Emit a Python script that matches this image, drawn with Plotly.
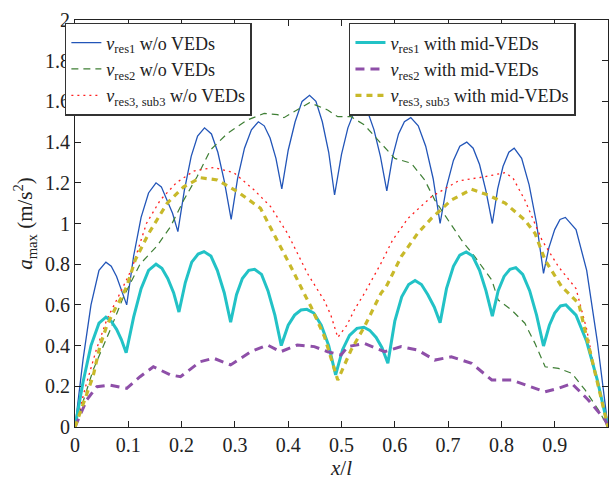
import plotly.graph_objects as go

# ---- data ----
x_b = [0.0, 0.015, 0.03, 0.045, 0.058, 0.068, 0.078, 0.088, 0.097, 0.11, 0.124, 0.138, 0.152,
       0.162, 0.172, 0.183, 0.193, 0.205, 0.218, 0.23, 0.243, 0.256, 0.268, 0.28, 0.293,
       0.305, 0.318, 0.331, 0.344, 0.355, 0.366, 0.377, 0.388, 0.4, 0.413, 0.426, 0.44,
       0.452, 0.464, 0.476, 0.487, 0.5, 0.512, 0.524, 0.537, 0.549, 0.561, 0.573, 0.585,
       0.596, 0.607, 0.618, 0.63, 0.644, 0.658, 0.672, 0.685, 0.697, 0.71, 0.722, 0.735,
       0.747, 0.759, 0.771, 0.783, 0.793, 0.803, 0.814, 0.824, 0.838, 0.852, 0.866, 0.879,
       0.889, 0.9, 0.91, 0.92, 0.94, 0.96, 0.98, 1.0]
y_b = [0.0, 0.33, 0.6, 0.77, 0.81, 0.79, 0.74, 0.67, 0.60, 0.84, 1.03, 1.15, 1.20,
       1.18, 1.12, 1.05, 0.96, 1.16, 1.33, 1.43, 1.47, 1.44, 1.35, 1.21, 1.02,
       1.22, 1.37, 1.46, 1.50, 1.48, 1.42, 1.32, 1.17, 1.36, 1.50, 1.60, 1.63,
       1.60, 1.50, 1.35, 1.14, 1.34, 1.47, 1.55, 1.58, 1.55, 1.46, 1.33, 1.16,
       1.33, 1.44, 1.50, 1.52, 1.48, 1.38, 1.22, 1.0, 1.18, 1.31, 1.38, 1.40,
       1.37, 1.29, 1.16, 1.0, 1.17, 1.28, 1.35, 1.37, 1.32, 1.19, 1.0, 0.755,
       0.88, 0.97, 1.02, 1.03, 0.97, 0.77, 0.42, 0.0]

x_g = [0.0, 0.034, 0.066, 0.091, 0.122, 0.154, 0.179, 0.204, 0.229, 0.254, 0.286, 0.323,
       0.355, 0.38, 0.392, 0.411, 0.44, 0.474, 0.493, 0.518, 0.543, 0.574, 0.6, 0.631,
       0.656, 0.675, 0.7, 0.725, 0.75, 0.782, 0.794, 0.819, 0.844, 0.863, 0.882, 0.907,
       0.932, 0.957, 0.982, 1.0]
y_g = [0.0, 0.28, 0.477, 0.64, 0.8, 0.89, 0.984, 1.115, 1.23, 1.361, 1.443, 1.508,
       1.541, 1.535, 1.52, 1.55, 1.594, 1.558, 1.525, 1.525, 1.484, 1.394, 1.32, 1.296,
       1.214, 1.115, 1.017, 0.919, 0.837, 0.722, 0.624, 0.575, 0.51, 0.411, 0.296, 0.288,
       0.264, 0.182, 0.084, 0.0]

x_r = [0.0, 0.02, 0.04, 0.06, 0.085, 0.107, 0.134, 0.16, 0.19, 0.223, 0.26, 0.298, 0.336,
       0.367, 0.399, 0.436, 0.468, 0.48, 0.493, 0.51, 0.525, 0.543, 0.574, 0.596, 0.625,
       0.669, 0.719, 0.769, 0.807, 0.822, 0.844, 0.876, 0.907, 0.94, 0.96, 0.976, 1.0]
y_r = [0.0, 0.2, 0.38, 0.53, 0.66, 0.78, 1.0, 1.115, 1.2, 1.258, 1.275, 1.25, 1.165,
       1.083, 0.95, 0.755, 0.62, 0.55, 0.44, 0.5, 0.58, 0.657, 0.804, 0.919, 1.026,
       1.132, 1.209, 1.23, 1.25, 1.222, 1.115, 0.919, 0.788, 0.68, 0.48, 0.264, 0.0]

x_c = [0.0, 0.015, 0.03, 0.045, 0.058, 0.068, 0.078, 0.087, 0.096, 0.11, 0.124, 0.138, 0.152,
       0.163, 0.174, 0.185, 0.195, 0.207, 0.219, 0.231, 0.242, 0.255, 0.267, 0.28, 0.292,
       0.303, 0.314, 0.326, 0.337, 0.35, 0.362, 0.375, 0.387, 0.4, 0.412, 0.424, 0.435,
       0.448, 0.462, 0.476, 0.489, 0.502, 0.515, 0.529, 0.542, 0.553, 0.565, 0.576, 0.587,
       0.6, 0.613, 0.626, 0.638, 0.65, 0.662, 0.674, 0.685, 0.697, 0.71, 0.722, 0.734,
       0.746, 0.759, 0.771, 0.783, 0.794, 0.805, 0.816, 0.827, 0.84, 0.853, 0.866, 0.879,
       0.89, 0.9, 0.911, 0.921, 0.94, 0.96, 0.98, 1.0]
y_c = [0.0, 0.22, 0.4, 0.51, 0.54, 0.52, 0.48, 0.43, 0.365, 0.54, 0.68, 0.77, 0.80,
       0.78, 0.73, 0.66, 0.565, 0.71, 0.81, 0.85, 0.862, 0.84, 0.77, 0.66, 0.515,
       0.65, 0.73, 0.77, 0.775, 0.75, 0.67, 0.55, 0.40, 0.50, 0.55, 0.575, 0.578,
       0.56, 0.50, 0.40, 0.256, 0.38, 0.45, 0.485, 0.49, 0.475, 0.44, 0.39, 0.313,
       0.52, 0.64, 0.70, 0.72, 0.70, 0.65, 0.59, 0.513, 0.68, 0.79, 0.845, 0.86,
       0.84, 0.77, 0.67, 0.545, 0.67, 0.74, 0.775, 0.783, 0.75, 0.67, 0.55, 0.398,
       0.5, 0.56, 0.595, 0.60, 0.55, 0.42, 0.23, 0.0]

x_p = [0.0, 0.022, 0.041, 0.066, 0.097, 0.122, 0.147, 0.179, 0.198, 0.235, 0.26, 0.292,
       0.33, 0.361, 0.386, 0.417, 0.449, 0.474, 0.499, 0.512, 0.543, 0.581, 0.612, 0.643,
       0.675, 0.706, 0.744, 0.782, 0.819, 0.857, 0.882, 0.907, 0.932, 0.963, 0.995, 1.0]
y_p = [0.0, 0.133, 0.198, 0.206, 0.19, 0.247, 0.296, 0.256, 0.247, 0.321, 0.338, 0.305,
       0.37, 0.403, 0.37, 0.403, 0.395, 0.37, 0.354, 0.395, 0.411, 0.37, 0.395, 0.378,
       0.329, 0.345, 0.313, 0.231, 0.231, 0.198, 0.173, 0.19, 0.214, 0.133, 0.034, 0.0]

x_y = [0.0, 0.02, 0.034, 0.047, 0.06, 0.075, 0.088, 0.097, 0.113, 0.138, 0.173, 0.204, 0.235,
       0.267, 0.305, 0.348, 0.373, 0.405, 0.433, 0.443, 0.468, 0.493, 0.518, 0.543, 0.574,
       0.584, 0.612, 0.643, 0.669, 0.706, 0.744, 0.775, 0.807, 0.844, 0.863, 0.882, 0.913,
       0.945, 0.976, 1.0]
y_y = [0.0, 0.15, 0.25, 0.4, 0.5, 0.58, 0.64, 0.69, 0.82, 0.95, 1.1, 1.18, 1.225,
       1.214, 1.156, 1.075, 0.952, 0.788, 0.64, 0.59, 0.444, 0.231, 0.378, 0.493, 0.657,
       0.69, 0.837, 0.952, 1.026, 1.115, 1.168, 1.14, 1.1, 1.017, 0.952, 0.82, 0.69,
       0.607, 0.264, 0.0]

x_ticks = [0, 0.1, 0.2, 0.3, 0.4, 0.5, 0.6, 0.7, 0.8, 0.9, 1]
x_labels = ["0", "0.1", "0.2", "0.3", "0.4", "0.5", "0.6", "0.7", "0.8", "0.9", "1"]
y_ticks = [0, 0.2, 0.4, 0.6, 0.8, 1, 1.2, 1.4, 1.6, 1.8, 2]
y_labels = ["0", "0.2", "0.4", "0.6", "0.8", "1", "1.2", "1.4", "1.6", "1.8", "2"]

FONT = "Liberation Serif"

fig = go.Figure()
fig.add_trace(go.Scatter(x=x_b, y=y_b, mode="lines", line=dict(color="#2255b8", width=1.3),
                         name="<i>v</i><sub>res1</sub> w/o VEDs", legend="legend"))
fig.add_trace(go.Scatter(x=x_g, y=y_g, mode="lines", line=dict(color="#3f7f35", width=1.2, dash="7px,5px"),
                         name="<i>v</i><sub>res2</sub> w/o VEDs", legend="legend"))
fig.add_trace(go.Scatter(x=x_r, y=y_r, mode="lines", line=dict(color="#ff2020", width=1.3, dash="2px,4px"),
                         name="<i>v</i><sub>res3, sub3</sub> w/o VEDs", legend="legend"))
fig.add_trace(go.Scatter(x=x_c, y=y_c, mode="lines", line=dict(color="#22c2c6", width=3),
                         name="<i>v</i><sub>res1</sub> with mid-VEDs", legend="legend2"))
fig.add_trace(go.Scatter(x=x_p, y=y_p, mode="lines", line=dict(color="#8e4fa8", width=3, dash="9px,6px"),
                         name="<i>v</i><sub>res2</sub> with mid-VEDs", legend="legend2"))
fig.add_trace(go.Scatter(x=x_y, y=y_y, mode="lines", line=dict(color="#c8b92a", width=3.2, dash="6px,5px"),
                         name="<i>v</i><sub>res3, sub3</sub> with mid-VEDs", legend="legend2"))

axis_common = dict(showline=True, linecolor="#222", linewidth=1, mirror="ticks", ticks="inside",
                   ticklen=6, tickcolor="#222", showgrid=False, zeroline=False,
                   tickfont=dict(family=FONT, size=20, color="#222"))

fig.update_layout(
    width=610, height=480,
    margin=dict(l=75, r=2, t=20, b=53),
    paper_bgcolor="white", plot_bgcolor="white",
    font=dict(family=FONT, color="#222"),
    xaxis=dict(range=[0, 1], tickvals=x_ticks, ticktext=x_labels, automargin=False,
               title=dict(text="<i>x</i>/<i>l</i>", font=dict(family=FONT, size=21), standoff=4),
               **axis_common),
    yaxis=dict(range=[0, 2], tickvals=y_ticks, ticktext=y_labels, automargin=False,
               title=dict(text="<i>a</i><sub>max</sub> (m/s<sup>2</sup>)", font=dict(family=FONT, size=21), standoff=6),
               **axis_common),
    legend=dict(x=-0.019, y=0.993, xanchor="left", yanchor="top", bgcolor="white",
                bordercolor="#333", borderwidth=1.5, font=dict(family=FONT, size=18, color="#222"),
                tracegroupgap=0, itemwidth=30),
    legend2=dict(x=0.514, y=0.993, xanchor="left", yanchor="top", bgcolor="white",
                 bordercolor="#333", borderwidth=1.5, font=dict(family=FONT, size=18, color="#222"),
                 tracegroupgap=0, itemwidth=30),
)

fig.write_html("out.html", config={"displayModeBar": False},
               post_script="document.documentElement.style.overflow='hidden';"
                           "document.body.style.margin='0';document.body.style.overflow='hidden';")
